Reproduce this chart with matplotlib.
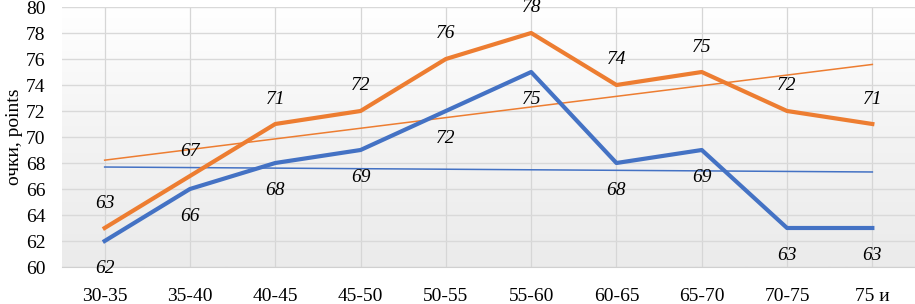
import numpy as np
import matplotlib.pyplot as plt

categories = ["30-35", "35-40", "40-45", "45-50", "50-55", "55-60", "60-65", "65-70", "70-75", "75 и"]
orange_vals = [63, 67, 71, 72, 76, 78, 74, 75, 72, 71]
blue_vals = [62, 66, 68, 69, 72, 75, 68, 69, 63, 63]

ORANGE = "#ED7D31"
BLUE = "#4472C4"
SERIF = ["Liberation Serif", "DejaVu Serif"]

plt.rcParams["font.family"] = SERIF

fig = plt.figure(figsize=(9.15, 3.04), dpi=100)
ax = fig.add_axes([62 / 915, 37 / 304, 1 - 62 / 915, 260 / 304])

x = np.arange(len(categories))
ax.set_xlim(-0.5, len(categories) - 0.5)
ax.set_ylim(60, 80)

# background gradient: white at top, light grey at bottom
grad = np.linspace(0, 1, 256).reshape(-1, 1)
cmap = plt.matplotlib.colors.LinearSegmentedColormap.from_list("bg", ["#ebebeb", "#f3f3f3", "#ffffff"])
ax.imshow(grad, extent=[-0.5, len(categories) - 0.5, 60, 80], origin="lower",
          aspect="auto", cmap=cmap, zorder=0)

ax.set_yticks(range(60, 81, 2))
ax.grid(axis="y", color="#d9d9d9", linewidth=1.0, zorder=1)
for xi in x:
    ax.axvline(xi, color="#d6d6d6", linewidth=0.9, zorder=1)

ax.plot(x, orange_vals, color=ORANGE, linewidth=3.0, zorder=4, solid_joinstyle="round")
ax.plot(x, blue_vals, color=BLUE, linewidth=3.0, zorder=4, solid_joinstyle="round")

# linear trend lines
po = np.polyfit(x, orange_vals, 1)
pb = np.polyfit(x, blue_vals, 1)
ax.plot(x, np.polyval(po, x), color=ORANGE, linewidth=1.1, zorder=3)
ax.plot(x, np.polyval(pb, x), color=BLUE, linewidth=1.1, zorder=3)

for xi, v in zip(x, orange_vals):
    ax.annotate(str(v), (xi, v), xytext=(0, 18), textcoords="offset points",
                ha="center", va="center", fontsize=14, style="italic", zorder=5)
for xi, v in zip(x, blue_vals):
    ax.annotate(str(v), (xi, v), xytext=(0, -20), textcoords="offset points",
                ha="center", va="center", fontsize=14, style="italic", zorder=5)

ax.set_xticks(x)
ax.set_xticklabels(categories)
ax.tick_params(axis="x", length=0, pad=15, labelsize=14)
ax.tick_params(axis="y", length=0, pad=12, labelsize=14)

for s in ["top", "right", "left"]:
    ax.spines[s].set_visible(False)
ax.spines["bottom"].set_color("#d0d0d0")

fig.text(15 / 915, 0.55, "очки, points", rotation=90, ha="center", va="center", fontsize=14)

fig.savefig("out.png", dpi=100)
